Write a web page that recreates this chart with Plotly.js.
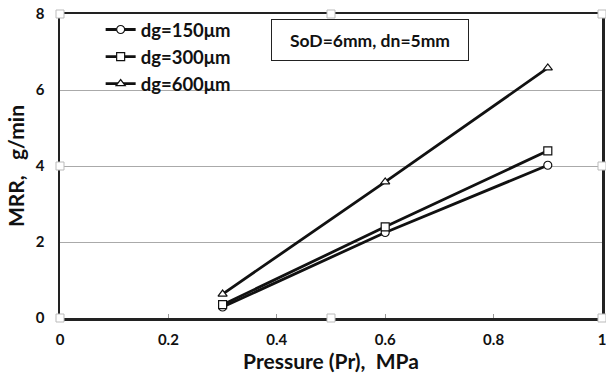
<!DOCTYPE html>
<html>
<head>
<meta charset="utf-8">
<script src="https://cdn.plot.ly/plotly-3.0.1.min.js"></script>
<style>html,body{margin:0;padding:0;background:#fff;}#chart{width:606px;height:379px;}</style>
</head>
<body>
<div id="chart"></div>
<script>
const pressure = [0.3, 0.6, 0.9];
const mrr150 = [0.29, 2.25, 4.02];
const mrr300 = [0.35, 2.40, 4.40];
const mrr600 = [0.63, 3.58, 6.58];
const seriesNames = ['dg=150μm', 'dg=300μm', 'dg=600μm'];
const xTicks = [0, 0.2, 0.4, 0.6, 0.8, 1];
const xTickText = ['0', '0.2', '0.4', '0.6', '0.8', '1'];
const yTicks = [0, 2, 4, 6, 8];
const annotationText = 'SoD=6mm, dn=5mm';

const FONT = 'Lato, "Open Sans", sans-serif';
function mk(y, name, symbol) {
  return {
    x: pressure, y: y, name: name, type: 'scatter', mode: 'lines+markers',
    line: {color: '#111', width: 2.8},
    marker: {symbol: symbol, size: 8, color: '#fff', line: {color: '#111', width: 1.2}},
    cliponaxis: false
  };
}
const data = [
  mk(mrr150, seriesNames[0], 'circle'),
  mk(mrr300, seriesNames[1], 'square'),
  mk(mrr600, seriesNames[2], 'triangle-up')
];

const handles = [[0,0],[0.5,0],[1,0],[0,1],[0.5,1],[1,1],[0,0.5],[1,0.5]].map(function(p){
  return {type:'rect', xref:'paper', yref:'paper',
    xsizemode:'pixel', ysizemode:'pixel', xanchor:p[0], yanchor:p[1],
    x0:-4, x1:4, y0:-4, y1:4, line:{color:'#bbb', width:1}, fillcolor:'#fff', layer:'above'};
});

const layout = {
  width: 606, height: 379,
  margin: {l: 60, r: 4, t: 14, b: 61},
  paper_bgcolor: '#fff', plot_bgcolor: '#fff',
  font: {family: FONT, color: '#111', size: 15},
  showlegend: true,
  legend: {x: 0.075, y: 1.01, xanchor: 'left', yanchor: 'top', bgcolor: 'rgba(0,0,0,0)',
    font: {family: FONT, size: 18.5, color: '#111', weight: 'bold'}, itemwidth: 30, tracegroupgap: 0},
  xaxis: {
    range: [0, 1], tickvals: xTicks, ticktext: xTickText,
    showgrid: false, zeroline: false,
    showline: true, mirror: true, linecolor: '#222', linewidth: 2.5,
    ticks: 'inside', ticklen: 4, tickcolor: '#999', tickwidth: 1,
    ticklabelstandoff: 6, ticklabeloverflow: 'allow',
    tickfont: {family: FONT, size: 15, weight: 'bold'},
    title: {text: 'Pressure (Pr),  MPa', font: {family: FONT, size: 21, weight: 'bold'}, standoff: 8}
  },
  yaxis: {
    range: [0, 8], tickvals: yTicks,
    showgrid: true, gridcolor: '#aaa', gridwidth: 1, zeroline: false,
    showline: true, mirror: true, linecolor: '#222', linewidth: 2.5,
    ticks: '', ticklabelstandoff: 10, tickfont: {family: FONT, size: 15, weight: 'bold'},
    title: {text: 'MRR,   g/min', font: {family: FONT, size: 21, weight: 'bold'}, standoff: 6}
  },
  annotations: [{
    text: annotationText, xref: 'paper', yref: 'paper', x: 0.389, y: 0.985,
    xanchor: 'left', yanchor: 'top', showarrow: false,
    font: {family: FONT, size: 17.5, color: '#111', weight: 'bold'},
    bordercolor: '#222', borderwidth: 1, borderpad: 9, bgcolor: '#fff', width: 178, height: 22, align: 'center'
  }],
  shapes: handles
};
Plotly.newPlot('chart', data, layout, {staticPlot: true});
</script>
</body>
</html>
